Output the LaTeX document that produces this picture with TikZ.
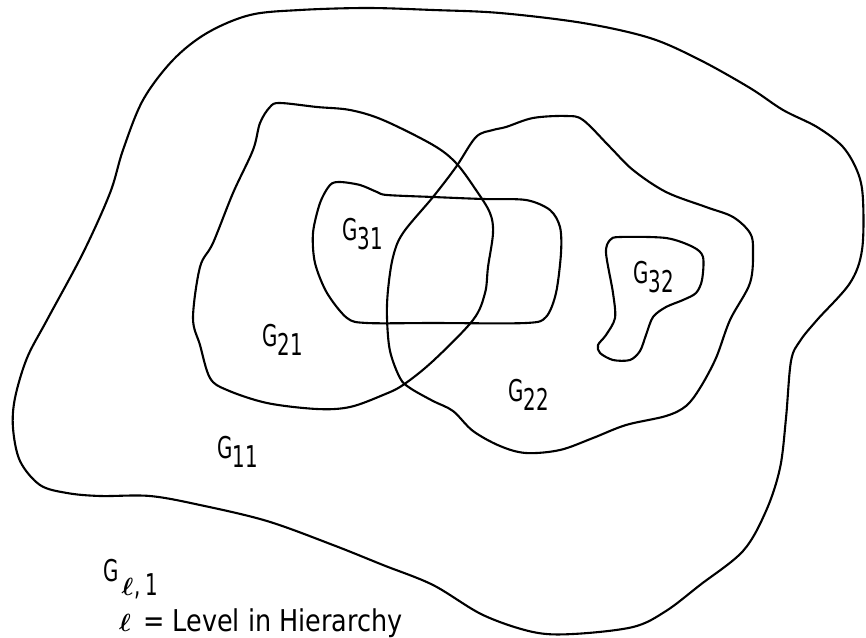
\documentclass[tikz,border=0pt]{standalone}
\usepackage{fontspec}
\setmainfont{DejaVu Sans}
\newfontfamily\labfont[FakeStretch=0.66]{DejaVu Sans}
\newfontfamily\legfont[FakeStretch=0.85]{DejaVu Sans}
\newcommand{\gsub}[1]{G\raisebox{-9pt}{#1}}
\newcommand{\lev}{{\boldmath$\ell$}}
\begin{document}
\begin{tikzpicture}[x=1pt,y=-1pt,
  region/.style={line width=2.1pt,line join=round},
  lab/.style={font=\labfont\fontsize{30}{32}\selectfont,inner sep=0pt,anchor=base west},
  legend/.style={font=\legfont\fontsize{30}{32}\selectfont,inner sep=0pt,anchor=base west}]
\useasboundingbox (0,0) rectangle (866,637);

% level 1: whole graph G11
\draw[region] plot[smooth cycle,tension=0.55] coordinates {
  (250,15) (300,10) (367,8) (433,10) (500,13) (583,23) (650,38) (700,60)
  (750,88) (783,110) (817,127) (843,147) (858,173) (863,200) (862,250)
  (850,283) (817,320) (800,341) (791,361) (786,418) (780,468) (766,511)
  (743,551) (700,585) (666,611) (633,627) (573,634) (533,632) (483,615)
  (433,585) (383,565) (333,545) (267,521) (200,505) (150,496) (100,496)
  (67,493) (40,485) (20,461) (13,428) (15,398) (27,358) (47,320) (83,253)
  (110,193) (123,150) (143,100) (173,60) (207,33)};

% level 2: G21
\draw[region] plot[smooth cycle,tension=0.55] coordinates {
  (280,103) (317,107) (350,110) (383,120) (433,145) (456,163) (476,190)
  (490,213) (493,233) (488,267) (485,293) (473,320) (433,361) (403,385)
  (383,395) (350,407) (317,409) (267,403) (227,390) (210,378) (200,345)
  (193,318) (200,267) (213,243) (233,193) (253,150) (260,123) (270,107)};

% level 2: G22
\draw[region] plot[smooth cycle,tension=0.55] coordinates {
  (493,130) (506,127) (533,118) (566,116) (583,120) (610,147) (633,170)
  (666,192) (706,207) (733,217) (750,233) (753,250) (750,283) (730,320)
  (716,358) (700,388) (686,406) (666,416) (626,425) (593,438) (560,450)
  (526,453) (500,446) (473,431) (453,411) (433,401) (410,388) (400,378)
  (390,351) (387,318) (388,290) (393,257) (403,233) (433,197) (456,167)
  (476,137)};

% level 3: G31
\draw[region] plot[smooth cycle,tension=0.5] coordinates {
  (377,192) (387,195) (433,197) (483,199) (526,200) (550,210) (560,227)
  (561,253) (556,293) (546,317) (526,323) (433,323) (367,323) (347,318)
  (327,293) (315,263) (313,233) (320,203) (330,185) (340,182) (360,185)};

% level 3: G32
\draw[region] plot[smooth cycle,tension=0.5] coordinates {
  (620,237) (666,238) (693,247) (703,257) (702,280) (696,293) (683,300)
  (666,307) (653,317) (646,335) (640,351) (630,360) (613,360) (600,353)
  (598,345) (606,335) (615,318) (613,293) (606,253) (610,240)};

% region labels
\node[lab] (g11) at (217,458) {\gsub{11}};
\node[lab] (g21) at (262,346) {\gsub{21}};
\node[lab] (g22) at (508,401) {\gsub{22}};
\node[lab] (g31) at (342,240) {\gsub{31}};
\node[lab] (g32) at (633,283) {\gsub{32}};

% legend
\node[lab] (gl) at (103,581) {G\hspace{3pt}\raisebox{-14pt}{\fontsize{34}{36}\selectfont\lev\fontsize{30}{32}\selectfont\hspace{1pt},\hspace{5pt}1}};
\node[legend] (ell) at (119,631) {\fontsize{33}{36}\selectfont\lev};
\node[legend] (legtext) at (143,631) {= Level in Hierarchy};
\end{tikzpicture}
\end{document}
